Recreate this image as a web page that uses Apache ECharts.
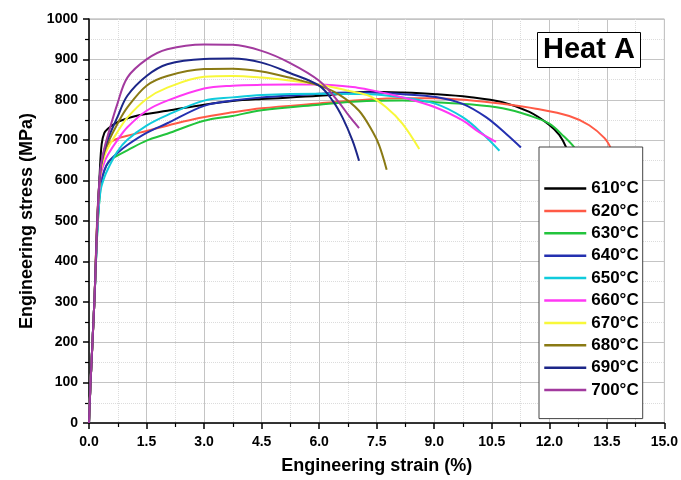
<!DOCTYPE html>
<html>
<head>
<meta charset="utf-8">
<script src="https://cdn.jsdelivr.net/npm/echarts@6/dist/echarts.min.js"></script>
<style>
  html, body { margin: 0; padding: 0; background: #fff; }
  #main { width: 681px; height: 480px; }
</style>
</head>
<body>
<div id="main"></div>
<script>
// stress-strain curves: [strain %, stress MPa]
var temps = ['610°C', '620°C', '630°C', '640°C', '650°C', '660°C', '670°C', '680°C', '690°C', '700°C'];

var s610 = [[0,0],[0.04,100],[0.14,300],[0.22,500],[0.28,620],[0.33,690],[0.4,718],[0.5,729],[0.61,737],[0.8,747],[1.0,754],[1.22,760],[1.5,765],[2.04,773],[3.0,788],[3.74,797],[4.5,802],[6.0,810],[7.3,820],[8.17,818],[9.04,814],[9.91,807],[10.78,794],[11.48,770],[12.0,738],[12.26,713],[12.44,682],[12.55,650]];
var s620 = [[0,0],[0.04,100],[0.14,300],[0.22,520],[0.3,620],[0.4,668],[0.52,692],[0.74,704],[1.0,711],[1.5,723],[2.04,736],[2.87,755],[3.74,769],[4.5,779],[6.0,791],[7.3,801],[8.17,804],[9.04,804],[9.91,799],[10.78,790],[11.65,778],[12.52,760],[13.04,737],[13.44,705],[13.6,681],[13.7,655]];
var s630 = [[0,0],[0.04,100],[0.14,300],[0.22,480],[0.3,580],[0.4,625],[0.55,650],[0.74,662],[1.0,675],[1.5,699],[2.04,716],[3.0,748],[3.74,760],[4.5,774],[6.0,788],[7.0,796],[8.17,798],[9.04,794],[9.91,789],[10.78,779],[11.48,761],[12.0,741],[12.35,712],[12.66,681],[12.8,655]];
var s640 = [[0,0],[0.04,100],[0.14,300],[0.22,490],[0.3,590],[0.4,625],[0.5,645],[0.74,668],[1.0,688],[1.5,718],[2.04,742],[3.0,785],[3.74,798],[4.5,806],[6.0,815],[6.78,818],[7.3,818],[8.17,814],[9.04,807],[9.74,790],[10.35,757],[10.87,716],[11.26,682]];
var s650 = [[0,0],[0.04,100],[0.14,300],[0.22,480],[0.3,575],[0.4,608],[0.5,630],[0.74,672],[1.0,701],[1.5,736],[2.04,762],[3.0,798],[3.74,806],[4.5,812],[6.0,815],[7.3,814],[8.17,806],[9.04,790],[9.74,757],[10.26,716],[10.7,674]];
var s660 = [[0,0],[0.04,100],[0.14,300],[0.22,500],[0.3,610],[0.4,645],[0.5,665],[0.74,700],[1.0,732],[1.5,773],[2.04,798],[3.0,828],[3.74,835],[4.5,837],[6.0,838],[7.0,830],[7.5,821],[8.17,806],[9.04,781],[9.74,749],[10.17,720],[10.61,696]];
var s670 = [[0,0],[0.04,100],[0.14,300],[0.22,510],[0.3,620],[0.4,660],[0.5,682],[0.74,720],[1.0,756],[1.5,802],[2.04,830],[3.0,857],[3.74,859],[4.5,855],[5.22,848],[6.0,838],[6.78,822],[7.3,810],[7.74,782],[8.17,741],[8.61,678]];
var s680 = [[0,0],[0.04,100],[0.14,300],[0.22,510],[0.3,625],[0.4,670],[0.5,695],[0.74,740],[1.0,781],[1.5,835],[2.04,859],[3.0,876],[3.74,877],[4.5,870],[5.22,855],[6.0,835],[6.52,813],[7.04,773],[7.4,720],[7.57,686],[7.76,627]];
var s690 = [[0,0],[0.04,100],[0.14,300],[0.22,510],[0.3,630],[0.4,675],[0.5,705],[0.74,757],[1.0,810],[1.5,859],[2.04,888],[3.0,901],[3.74,902],[4.5,892],[5.22,867],[6.0,835],[6.35,798],[6.61,756],[6.87,699],[7.04,649]];
var s700 = [[0,0],[0.04,100],[0.14,300],[0.22,510],[0.3,630],[0.4,680],[0.5,715],[0.74,790],[1.0,855],[1.5,900],[2.04,925],[3.0,937],[3.74,936],[4.5,921],[5.22,892],[6.0,847],[6.52,793],[6.78,760],[7.04,730]];

var curves = [s610, s620, s630, s640, s650, s660, s670, s680, s690, s700];
var colors = ['#000000', '#ff5a46', '#22c43c', '#2430b0', '#10cbdc', '#ff38f4', '#f8f83a', '#8a7a14', '#1c2688', '#a23a9e'];

var font = 'Liberation Sans, Arial, sans-serif';

var myChart = echarts.init(document.getElementById('main'));

var series = [];
for (var i = 0; i < temps.length; i++) {
    series.push({
        name: temps[i],
        type: 'line',
        data: curves[i],
        symbol: 'none',
        smooth: 0.35,
        lineStyle: { color: colors[i], width: 2 },
        itemStyle: { color: colors[i] }
    });
}

var option = {
    backgroundColor: '#fff',
    animation: false,
    title: {
        text: 'Heat A',
        left: 537,
        top: 32,
        padding: [3, 6, 3, 6],
        borderColor: '#000',
        borderWidth: 1,
        backgroundColor: '#fff',
        textStyle: { fontFamily: font, fontSize: 29, fontWeight: 'bold', color: '#000', lineHeight: 30 }
    },
    legend: {
        orient: 'vertical',
        left: 539,
        top: 147,
        padding: [33, 4, 20, 4],
        itemWidth: 42,
        itemHeight: 17,
        itemGap: 5.4,
        backgroundColor: '#fff',
        borderColor: '#444',
        borderWidth: 1,
        borderRadius: 0,
        itemStyle: { opacity: 0 },
        lineStyle: { width: 2.5 },
        textStyle: { fontFamily: font, fontSize: 17, fontWeight: 'bold', color: '#000' },
        data: temps
    },
    grid: { left: 89, right: 16, top: 19, bottom: 57, show: true, borderColor: '#a8a8a8', borderWidth: 1 },
    xAxis: {
        type: 'value',
        min: 0,
        max: 15,
        interval: 1.5,
        name: 'Engineering strain (%)',
        nameLocation: 'middle',
        nameGap: 34,
        nameTextStyle: { fontFamily: font, fontSize: 18, fontWeight: 'bold', color: '#000' },
        axisLine: { show: true, onZero: false, lineStyle: { color: '#000', width: 1.5 } },
        axisTick: { show: true, inside: false, length: 6, lineStyle: { color: '#000', width: 1.5 } },
        minorTick: { show: true, splitNumber: 2, length: 4, lineStyle: { color: '#000', width: 1.2 } },
        axisLabel: { margin: 12, fontFamily: font, fontSize: 14, fontWeight: 'bold', color: '#000',
            formatter: function (v) { return v.toFixed(1); } },
        splitLine: { show: true, lineStyle: { color: '#c4c4c4', width: 1 } },
        minorSplitLine: { show: true, lineStyle: { color: '#dcdcdc', width: 1, type: 'dotted' } }
    },
    yAxis: {
        type: 'value',
        min: 0,
        max: 1000,
        interval: 100,
        name: 'Engineering stress (MPa)',
        nameLocation: 'middle',
        nameGap: 51,
        nameTextStyle: { fontFamily: font, fontSize: 18, fontWeight: 'bold', color: '#000' },
        axisLine: { show: true, onZero: false, lineStyle: { color: '#000', width: 1.5 } },
        axisTick: { show: true, inside: false, length: 6, lineStyle: { color: '#000', width: 1.5 } },
        minorTick: { show: true, splitNumber: 2, length: 4, lineStyle: { color: '#000', width: 1.2 } },
        axisLabel: { margin: 11, fontFamily: font, fontSize: 14, fontWeight: 'bold', color: '#000',
            formatter: function (v) { return String(v); } },
        splitLine: { show: true, lineStyle: { color: '#c4c4c4', width: 1 } },
        minorSplitLine: { show: true, lineStyle: { color: '#dcdcdc', width: 1, type: 'dotted' } }
    },
    series: series
};

myChart.setOption(option);
</script>
</body>
</html>
